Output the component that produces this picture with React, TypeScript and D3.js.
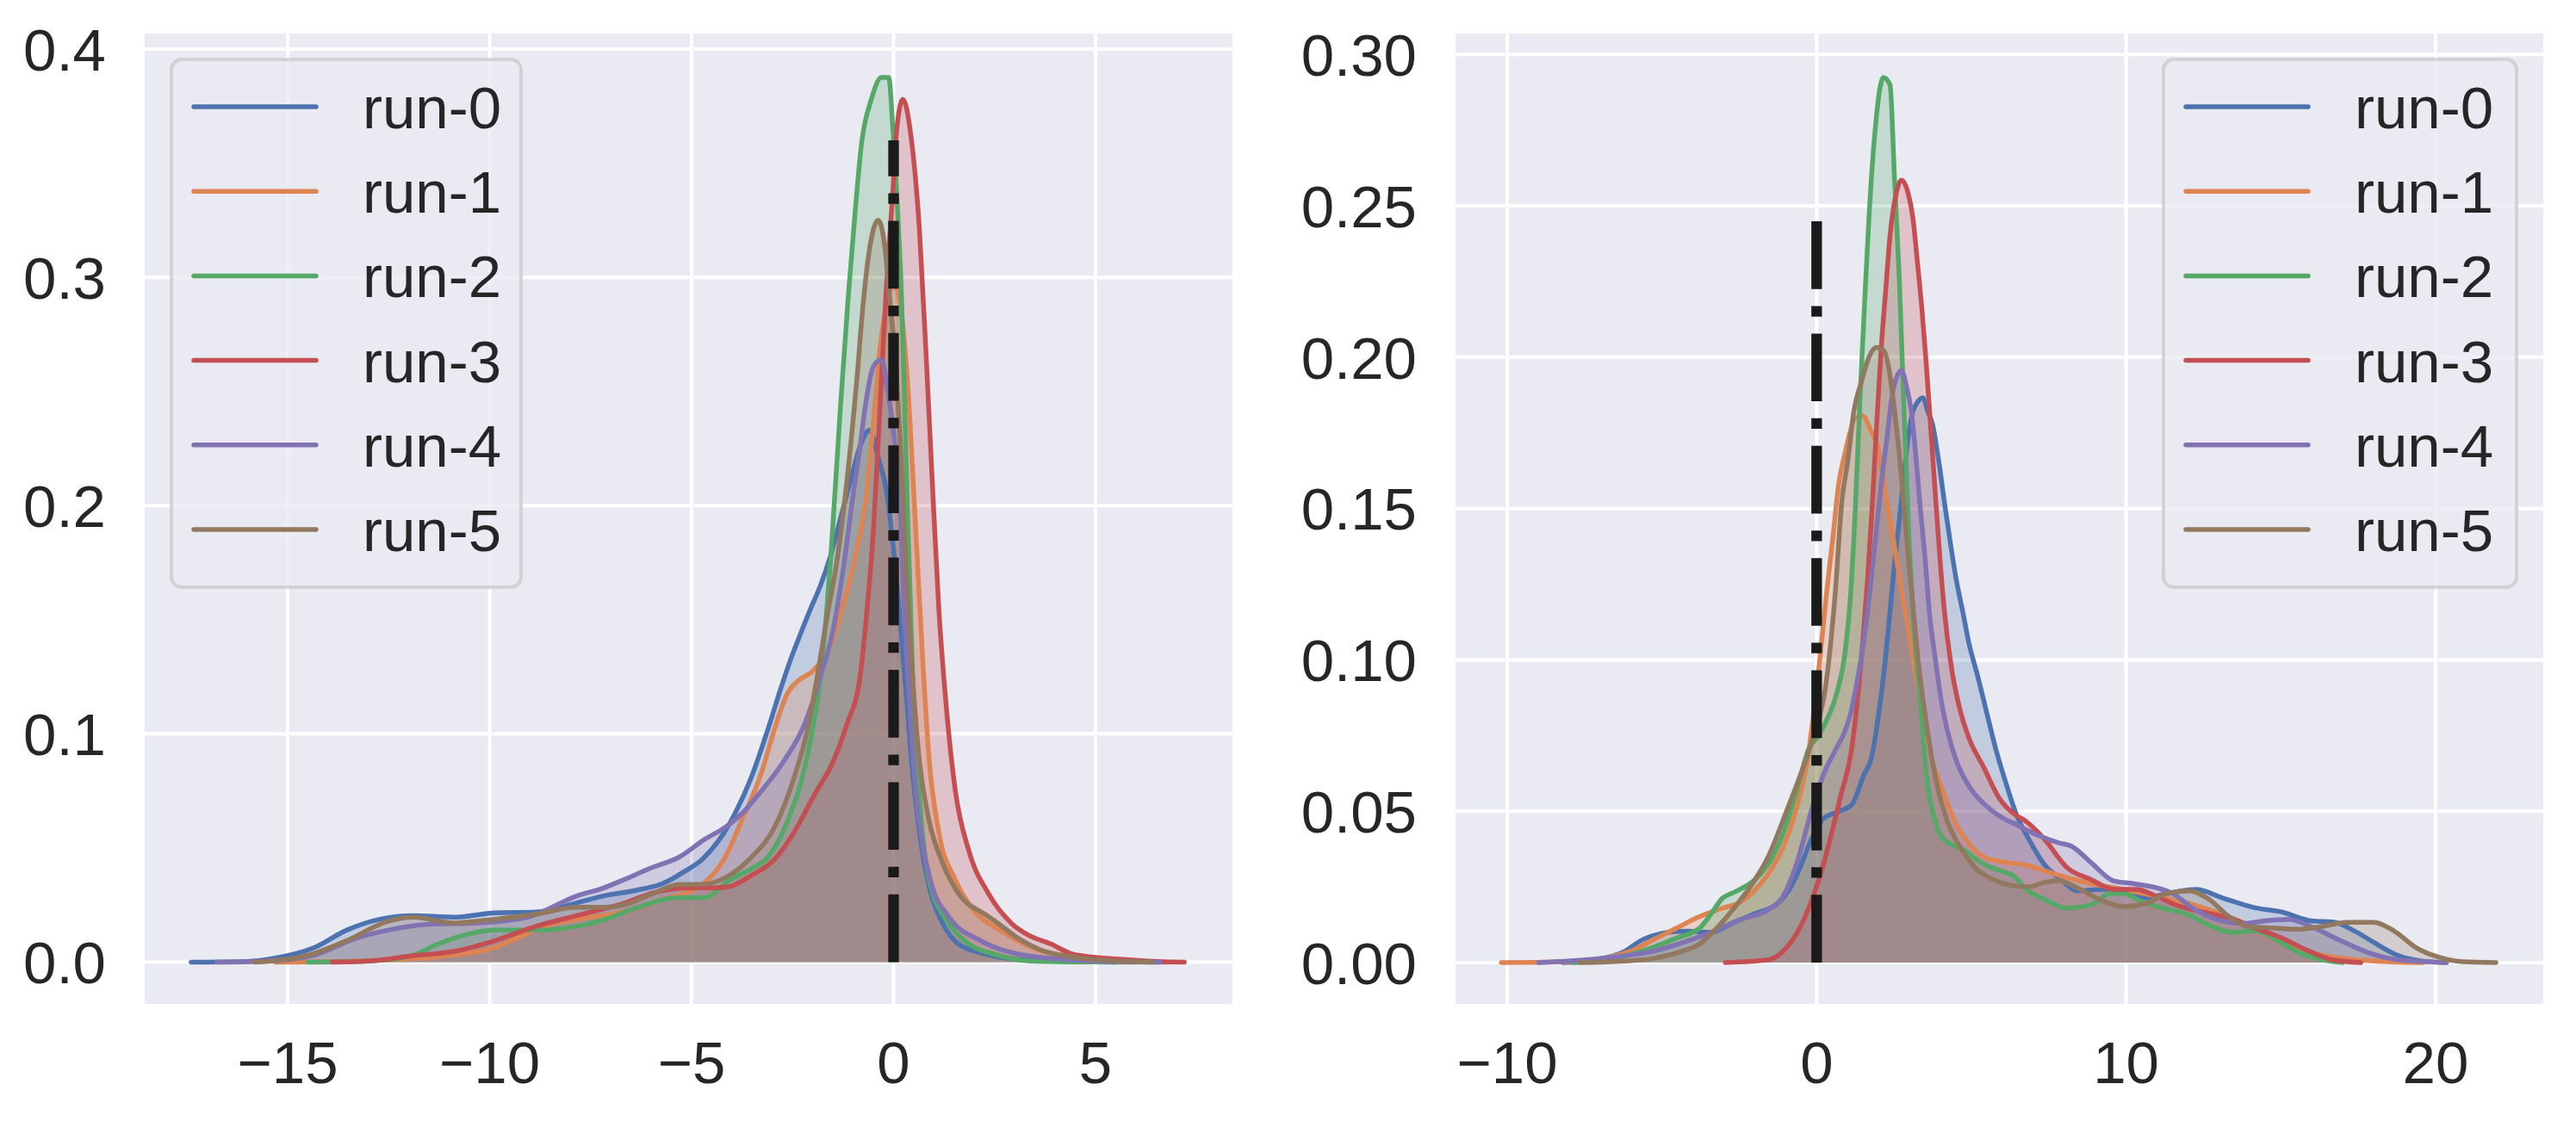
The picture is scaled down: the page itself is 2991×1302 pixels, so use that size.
import { useRef, useEffect } from "react";
import * as d3 from "d3";

type Pt = [number, number];

const RUN_NAMES = ["run-0", "run-1", "run-2", "run-3", "run-4", "run-5"];
const RUN_COLORS = ["#4C72B0", "#DD8452", "#55A868", "#C44E52", "#8172B3", "#937860"];

// ---- left panel: density curves (x, density) ----
const LEFT_RUN0: Pt[] = [
  [-17.39, 0], [-16, 0.0003], [-15.37, 0.0016], [-14.35, 0.0063], [-13.54, 0.014], [-12.72, 0.0188],
  [-11.9, 0.0204], [-10.89, 0.0197], [-9.87, 0.0216], [-8.85, 0.022], [-7.84, 0.026], [-7.18, 0.029],
  [-6.37, 0.0315], [-5.72, 0.0344], [-5.15, 0.04], [-4.74, 0.045], [-4.34, 0.053], [-3.93, 0.065],
  [-3.52, 0.081], [-3.11, 0.102], [-2.79, 0.12], [-2.54, 0.133], [-2.3, 0.144], [-2.05, 0.155],
  [-1.81, 0.165], [-1.56, 0.178], [-1.32, 0.194], [-1.08, 0.21], [-0.83, 0.226], [-0.6, 0.233],
  [-0.38, 0.221], [-0.18, 0.207], [-0.02, 0.184], [0.15, 0.152], [0.31, 0.118], [0.47, 0.083],
  [0.64, 0.057], [0.88, 0.033], [1.21, 0.0172], [1.61, 0.0079], [2.18, 0.004], [3.0, 0.0013],
  [4.2, 0.0003], [5.5, 0],
];
const LEFT_RUN1: Pt[] = [
  [-15.3, 0], [-13.5, 0.0004], [-12.0, 0.0014], [-10.9, 0.003], [-9.9, 0.0063], [-9.26, 0.011],
  [-8.65, 0.0157], [-7.84, 0.0188], [-6.82, 0.0215], [-5.8, 0.027], [-4.74, 0.034], [-4.17, 0.046],
  [-3.76, 0.062], [-3.27, 0.083], [-2.95, 0.102], [-2.62, 0.118], [-2.38, 0.123], [-1.97, 0.128],
  [-1.56, 0.139], [-1.24, 0.157], [-0.91, 0.181], [-0.67, 0.205], [-0.5, 0.236], [-0.34, 0.268],
  [-0.15, 0.29], [0.02, 0.297], [0.23, 0.279], [0.39, 0.242], [0.55, 0.189], [0.72, 0.133],
  [0.88, 0.089], [1.12, 0.057], [1.53, 0.036], [2.02, 0.022], [2.59, 0.0145], [3.4, 0.0066],
  [4.62, 0.002], [5.8, 0.0004], [6.8, 0],
];
const LEFT_RUN2: Pt[] = [
  [-14.5, 0], [-13, 0.0005], [-11.9, 0.003], [-11.3, 0.0078], [-10.48, 0.0125], [-9.87, 0.014],
  [-8.85, 0.014], [-7.84, 0.0157], [-7.18, 0.0185], [-6.37, 0.0238], [-5.31, 0.0283], [-4.66, 0.0283],
  [-4.09, 0.0357], [-3.52, 0.041], [-3.11, 0.046], [-2.62, 0.062], [-2.13, 0.091], [-1.81, 0.125],
  [-1.56, 0.176], [-1.32, 0.242], [-1.12, 0.292], [-0.95, 0.329], [-0.79, 0.359], [-0.55, 0.378],
  [-0.3, 0.3876], [-0.12, 0.3876], [-0.02, 0.366], [0.11, 0.326], [0.19, 0.295], [0.27, 0.247],
  [0.35, 0.194], [0.47, 0.128], [0.64, 0.073], [0.88, 0.036], [1.37, 0.017], [1.78, 0.009],
  [2.59, 0.003], [3.4, 0.0005], [4.8, 0.0001], [6.0, 0],
];
const LEFT_RUN3: Pt[] = [
  [-13.9, 0], [-12.93, 0.0006], [-11.9, 0.0028], [-10.89, 0.0047], [-9.87, 0.0094], [-8.85, 0.0157],
  [-7.84, 0.0204], [-6.82, 0.025], [-5.8, 0.031], [-5.0, 0.0325], [-4.5, 0.0325], [-4.09, 0.033],
  [-3.52, 0.038], [-2.95, 0.045], [-2.46, 0.057], [-1.97, 0.073], [-1.48, 0.0885], [-1.16, 0.104],
  [-0.83, 0.125], [-0.67, 0.152], [-0.5, 0.189], [-0.34, 0.242], [-0.18, 0.295], [-0.02, 0.337],
  [0.07, 0.363], [0.23, 0.378], [0.43, 0.362], [0.64, 0.321], [0.8, 0.268], [0.96, 0.21],
  [1.12, 0.155], [1.29, 0.115], [1.53, 0.075], [1.86, 0.049], [2.35, 0.03], [2.92, 0.017],
  [3.32, 0.012], [3.89, 0.008], [4.46, 0.0034], [5.59, 0.0013], [6.5, 0.0003], [7.2, 0],
];
const LEFT_RUN4: Pt[] = [
  [-16.75, 0], [-15.5, 0.0005], [-14.35, 0.003], [-13.33, 0.0103], [-12.52, 0.014], [-11.5, 0.0166],
  [-10.28, 0.0172], [-9.06, 0.0197], [-7.84, 0.029], [-7.18, 0.0325], [-6.69, 0.036], [-6.04, 0.041],
  [-5.31, 0.046], [-4.66, 0.054], [-4.17, 0.059], [-3.76, 0.065], [-3.27, 0.075], [-2.7, 0.0885],
  [-2.21, 0.104], [-1.81, 0.125], [-1.48, 0.147], [-1.24, 0.173], [-1.0, 0.205], [-0.83, 0.226],
  [-0.67, 0.247], [-0.5, 0.261], [-0.3, 0.264], [-0.14, 0.25], [0.02, 0.229], [0.15, 0.205],
  [0.25, 0.16], [0.39, 0.115], [0.55, 0.075], [0.72, 0.0515], [0.96, 0.033], [1.37, 0.0198],
  [2.18, 0.0092], [3.4, 0.0026], [5.0, 0.0005], [6.6, 0],
];
const LEFT_RUN5: Pt[] = [
  [-15.83, 0], [-14.9, 0.0015], [-14.35, 0.0038], [-13.54, 0.0094], [-12.52, 0.0179], [-11.9, 0.0197],
  [-10.89, 0.0172], [-9.87, 0.0188], [-8.85, 0.021], [-7.84, 0.024], [-7.18, 0.024], [-6.69, 0.025],
  [-5.96, 0.03], [-5.31, 0.034], [-4.74, 0.034], [-4.17, 0.037], [-3.52, 0.046], [-2.95, 0.059],
  [-2.46, 0.081], [-2.13, 0.102], [-1.89, 0.125], [-1.64, 0.152], [-1.4, 0.176], [-1.16, 0.21],
  [-0.91, 0.255], [-0.75, 0.289], [-0.59, 0.313], [-0.38, 0.325], [-0.22, 0.314], [-0.1, 0.292],
  [0.07, 0.258], [0.19, 0.22], [0.31, 0.173], [0.47, 0.125], [0.64, 0.088], [0.88, 0.062],
  [1.21, 0.0436], [1.61, 0.03], [2.26, 0.021], [2.59, 0.017], [3.07, 0.0106], [3.65, 0.0053],
  [4.62, 0.0018], [5.5, 0.0005], [6.4, 0],
];

// ---- right panel ----
const RIGHT_RUN0: Pt[] = [
  [-8.2, 0], [-7.2, 0.0008], [-6.2, 0.0037], [-5.64, 0.0075], [-5.27, 0.0089], [-4.8, 0.01],
  [-4.16, 0.0104], [-3.41, 0.01], [-2.76, 0.0128], [-2.02, 0.0161], [-1.28, 0.0194], [-0.91, 0.0237],
  [-0.54, 0.0313], [-0.17, 0.0408], [0.2, 0.0474], [0.67, 0.0498], [1.13, 0.0521], [1.51, 0.0616],
  [1.79, 0.0685], [1.98, 0.0804], [2.18, 0.0964], [2.37, 0.116], [2.52, 0.132], [2.67, 0.146],
  [2.81, 0.16], [2.96, 0.174], [3.11, 0.182], [3.25, 0.185], [3.43, 0.1866], [3.59, 0.182],
  [3.74, 0.178], [3.94, 0.166], [4.13, 0.152], [4.33, 0.138], [4.52, 0.126], [4.72, 0.116],
  [4.91, 0.106], [5.21, 0.0944], [5.5, 0.0824], [5.79, 0.0705], [6.08, 0.0605], [6.47, 0.0485],
  [6.87, 0.0405], [7.35, 0.0325], [7.89, 0.0275], [8.42, 0.0237], [9.17, 0.0242], [9.91, 0.0242],
  [10.66, 0.0214], [11.3, 0.0228], [12.26, 0.0242], [13.11, 0.0214], [14.17, 0.0181], [15.03, 0.0167],
  [15.98, 0.0138], [16.73, 0.0133], [17.37, 0.0105], [18.0, 0.0067], [18.75, 0.0025], [19.5, 0.0006],
  [20.35, 0],
];
const RIGHT_RUN1: Pt[] = [
  [-10.19, 0], [-8.98, 0.0001], [-7.59, 0.0005], [-6.66, 0.0019], [-6.01, 0.0038], [-5.27, 0.0076],
  [-4.53, 0.0114], [-3.78, 0.0152], [-3.04, 0.018], [-2.48, 0.0199], [-2.02, 0.0237], [-1.56, 0.0294],
  [-1.09, 0.0379], [-0.68, 0.05], [-0.3, 0.067], [0.1, 0.1], [0.32, 0.122], [0.52, 0.14],
  [0.71, 0.158], [0.91, 0.168], [1.1, 0.176], [1.25, 0.18], [1.49, 0.1806], [1.74, 0.176],
  [1.98, 0.17], [2.18, 0.158], [2.37, 0.146], [2.57, 0.134], [2.76, 0.122], [2.96, 0.11],
  [3.15, 0.098], [3.35, 0.0864], [3.54, 0.0764], [3.74, 0.0665], [3.94, 0.0605], [4.23, 0.0525],
  [4.52, 0.0455], [4.91, 0.0395], [5.4, 0.0349], [5.89, 0.0335], [6.72, 0.0323], [7.78, 0.029],
  [8.85, 0.0261], [9.91, 0.0242], [10.98, 0.0219], [12.04, 0.0195], [12.9, 0.0167], [13.75, 0.0133],
  [14.6, 0.0086], [15.45, 0.0048], [16.3, 0.0025], [17.37, 0.001], [18.43, 0.0003], [19.6, 0],
];
const RIGHT_RUN2: Pt[] = [
  [-7.9, 0], [-7.12, 0.0005], [-5.64, 0.0038], [-4.53, 0.0081], [-3.78, 0.0114], [-3.41, 0.0161],
  [-3.04, 0.0213], [-2.67, 0.0232], [-1.93, 0.028], [-1.44, 0.0345], [-0.95, 0.0465], [-0.56, 0.06],
  [-0.26, 0.0705], [0.03, 0.0745], [0.32, 0.08], [0.62, 0.088], [0.91, 0.102], [1.1, 0.122],
  [1.25, 0.15], [1.4, 0.186], [1.54, 0.216], [1.69, 0.246], [1.88, 0.274], [2.16, 0.2924],
  [2.37, 0.29], [2.52, 0.258], [2.67, 0.226], [2.81, 0.186], [2.96, 0.146], [3.15, 0.11],
  [3.35, 0.086], [3.54, 0.0625], [3.84, 0.0465], [4.13, 0.0405], [4.72, 0.0375], [5.4, 0.0325],
  [5.89, 0.0305], [6.38, 0.0285], [6.72, 0.0247], [7.36, 0.0209], [8.1, 0.018], [8.85, 0.019],
  [9.49, 0.0228], [9.91, 0.0228], [10.45, 0.0204], [11.19, 0.018], [12.04, 0.0157], [12.68, 0.0124],
  [13.43, 0.01], [14.17, 0.0105], [14.81, 0.0077], [15.56, 0.0034], [16.3, 0.001], [17.0, 0],
];
const RIGHT_RUN3: Pt[] = [
  [-2.95, 0], [-1.56, 0.0009], [-1.09, 0.0037], [-0.63, 0.0099], [-0.17, 0.0203], [0.3, 0.0355],
  [0.76, 0.0544], [1.15, 0.072], [1.35, 0.09], [1.49, 0.106], [1.64, 0.126], [1.79, 0.15],
  [1.93, 0.176], [2.08, 0.202], [2.23, 0.222], [2.37, 0.24], [2.57, 0.254], [2.74, 0.2585],
  [2.96, 0.254], [3.11, 0.246], [3.25, 0.232], [3.4, 0.216], [3.54, 0.198], [3.69, 0.176],
  [3.84, 0.154], [3.98, 0.134], [4.13, 0.116], [4.38, 0.096], [4.62, 0.084], [4.91, 0.0745],
  [5.4, 0.0645], [5.89, 0.0545], [6.47, 0.0485], [6.72, 0.047], [7.36, 0.0408], [8.1, 0.0313],
  [8.85, 0.0275], [9.6, 0.0242], [10.34, 0.0242], [10.98, 0.0219], [11.62, 0.019], [12.47, 0.0167],
  [13.32, 0.0148], [14.17, 0.0114], [15.03, 0.0081], [15.88, 0.0039], [16.62, 0.001], [17.58, 0],
];
const RIGHT_RUN4: Pt[] = [
  [-8.98, 0], [-8.05, 0.0005], [-6.66, 0.0017], [-5.27, 0.0038], [-4.34, 0.0066], [-3.41, 0.01],
  [-2.48, 0.0142], [-1.56, 0.0175], [-1.09, 0.0218], [-0.63, 0.0332], [-0.17, 0.0502], [0.2, 0.0616],
  [0.62, 0.0705], [0.91, 0.0764], [1.1, 0.0824], [1.3, 0.0924], [1.49, 0.104], [1.69, 0.12],
  [1.84, 0.134], [1.98, 0.148], [2.13, 0.162], [2.28, 0.174], [2.42, 0.186], [2.57, 0.193],
  [2.74, 0.1956], [2.91, 0.19], [3.06, 0.182], [3.2, 0.168], [3.35, 0.15], [3.5, 0.134],
  [3.64, 0.116], [3.84, 0.1], [4.03, 0.0864], [4.23, 0.0764], [4.52, 0.0665], [4.91, 0.0585],
  [5.4, 0.0525], [5.89, 0.0485], [6.47, 0.0455], [7.16, 0.042], [7.84, 0.0395], [8.23, 0.0385],
  [8.85, 0.0332], [9.6, 0.027], [10.23, 0.0261], [10.98, 0.0247], [11.51, 0.0228], [12.15, 0.018],
  [12.9, 0.0143], [13.75, 0.0129], [14.49, 0.0138], [15.24, 0.0143], [15.98, 0.0119], [16.84, 0.0077],
  [17.8, 0.0034], [18.75, 0.001], [20.35, 0],
];
const RIGHT_RUN5: Pt[] = [
  [-7.63, 0], [-6.2, 0.0005], [-5.27, 0.0014], [-4.34, 0.0038], [-3.78, 0.0062], [-3.23, 0.0114],
  [-2.67, 0.018], [-2.11, 0.0256], [-1.56, 0.0351], [-1.0, 0.0493], [-0.54, 0.0616], [-0.07, 0.0758],
  [0.3, 0.092], [0.6, 0.122], [0.81, 0.152], [1.01, 0.166], [1.2, 0.182], [1.45, 0.192],
  [1.69, 0.2], [1.93, 0.2032], [2.18, 0.202], [2.37, 0.194], [2.52, 0.182], [2.67, 0.168],
  [2.81, 0.152], [2.96, 0.134], [3.11, 0.118], [3.3, 0.098], [3.5, 0.0824], [3.74, 0.0665],
  [3.94, 0.0565], [4.23, 0.0465], [4.62, 0.0385], [5.11, 0.0315], [5.69, 0.0275], [6.28, 0.0255],
  [6.87, 0.025], [7.35, 0.0265], [7.84, 0.027], [8.33, 0.0252], [8.82, 0.0225], [9.48, 0.0195],
  [9.91, 0.0185], [10.66, 0.0195], [11.3, 0.0228], [12.04, 0.0237], [12.68, 0.0209], [13.32, 0.0152],
  [13.96, 0.0119], [14.81, 0.0114], [15.56, 0.011], [16.3, 0.0119], [17.16, 0.0133], [18.0, 0.0133],
  [18.65, 0.0105], [19.39, 0.0048], [20.03, 0.002], [20.88, 0.0003], [21.95, 0],
];

const LEFT_X_TICKS = [-15, -10, -5, 0, 5];
const LEFT_Y_TICKS = [0, 0.1, 0.2, 0.3, 0.4];
const LEFT_Y_LABELS = ["0.0", "0.1", "0.2", "0.3", "0.4"];
const LEFT_X_DOMAIN: [number, number] = [-18.54, 8.39];
const LEFT_Y_DOMAIN: [number, number] = [-0.0183, 0.4068];
const LEFT_MARKER: Pt = [0, 0.36]; // x position, top of the dash-dot line

const RIGHT_X_TICKS = [-10, 0, 10, 20];
const RIGHT_Y_TICKS = [0, 0.05, 0.1, 0.15, 0.2, 0.25, 0.3];
const RIGHT_Y_LABELS = ["0.00", "0.05", "0.10", "0.15", "0.20", "0.25", "0.30"];
const RIGHT_X_DOMAIN: [number, number] = [-11.67, 23.48];
const RIGHT_Y_DOMAIN: [number, number] = [-0.01365, 0.3069];
const RIGHT_MARKER: Pt = [0, 0.25];

const FONT = "'Liberation Sans', Arial, sans-serif";
const TEXT_COLOR = "#262626";
const BG = "#EAEAF2";

interface Panel {
  left: number;
  right: number;
  top: number;
  bottom: number;
  xDomain: [number, number];
  yDomain: [number, number];
  xTicks: number[];
  yTicks: number[];
  yLabels: string[];
  series: Pt[][];
  marker: Pt;
  legendLeft: number;
  legendWidth: number;
}

const PANELS: Panel[] = [
  {
    left: 168, right: 1431, top: 39, bottom: 1166,
    xDomain: LEFT_X_DOMAIN, yDomain: LEFT_Y_DOMAIN,
    xTicks: LEFT_X_TICKS, yTicks: LEFT_Y_TICKS, yLabels: LEFT_Y_LABELS,
    series: [LEFT_RUN0, LEFT_RUN1, LEFT_RUN2, LEFT_RUN3, LEFT_RUN4, LEFT_RUN5],
    marker: LEFT_MARKER,
    legendLeft: 199, legendWidth: 406,
  },
  {
    left: 1690, right: 2953, top: 39, bottom: 1166,
    xDomain: RIGHT_X_DOMAIN, yDomain: RIGHT_Y_DOMAIN,
    xTicks: RIGHT_X_TICKS, yTicks: RIGHT_Y_TICKS, yLabels: RIGHT_Y_LABELS,
    series: [RIGHT_RUN0, RIGHT_RUN1, RIGHT_RUN2, RIGHT_RUN3, RIGHT_RUN4, RIGHT_RUN5],
    marker: RIGHT_MARKER,
    legendLeft: 2512, legendWidth: 410,
  },
];

function fmtTick(v: number) {
  return v < 0 ? `\u2212${Math.abs(v)}` : `${v}`;
}

function drawPanel(svg: d3.Selection<SVGSVGElement, unknown, null, undefined>, p: Panel, idx: number) {
  const x = d3.scaleLinear().domain(p.xDomain).range([p.left, p.right]);
  const y = d3.scaleLinear().domain(p.yDomain).range([p.bottom, p.top]);
  const g = svg.append("g");

  const clipId = `clip-${idx}`;
  g.append("clipPath")
    .attr("id", clipId)
    .append("rect")
    .attr("x", p.left)
    .attr("y", p.top)
    .attr("width", p.right - p.left)
    .attr("height", p.bottom - p.top);

  // background
  g.append("rect")
    .attr("x", p.left)
    .attr("y", p.top)
    .attr("width", p.right - p.left)
    .attr("height", p.bottom - p.top)
    .attr("fill", BG);

  // grid
  p.xTicks.forEach((t) => {
    g.append("line")
      .attr("x1", x(t)).attr("x2", x(t))
      .attr("y1", p.top).attr("y2", p.bottom)
      .attr("stroke", "#fff").attr("stroke-width", 4);
  });
  p.yTicks.forEach((t) => {
    g.append("line")
      .attr("x1", p.left).attr("x2", p.right)
      .attr("y1", y(t)).attr("y2", y(t))
      .attr("stroke", "#fff").attr("stroke-width", 4);
  });

  // tick labels
  p.xTicks.forEach((t) => {
    g.append("text")
      .attr("x", x(t))
      .attr("y", 1258)
      .attr("text-anchor", "middle")
      .attr("font-family", FONT)
      .attr("font-size", 69)
      .attr("fill", TEXT_COLOR)
      .text(fmtTick(t));
  });
  p.yTicks.forEach((t, i) => {
    g.append("text")
      .attr("x", p.left - 45)
      .attr("y", y(t) + 24.7)
      .attr("text-anchor", "end")
      .attr("font-family", FONT)
      .attr("font-size", 69)
      .attr("fill", TEXT_COLOR)
      .text(p.yLabels[i]);
  });

  const plot = g.append("g").attr("clip-path", `url(#${clipId})`);

  const area = d3.area<Pt>()
    .x((d) => x(d[0]))
    .y0(y(0))
    .y1((d) => y(d[1]))
    .curve(d3.curveMonotoneX);
  const line = d3.line<Pt>()
    .x((d) => x(d[0]))
    .y((d) => y(d[1]))
    .curve(d3.curveMonotoneX);

  // fills below all lines (matplotlib zorder)
  p.series.forEach((s, i) => {
    plot.append("path")
      .datum(s)
      .attr("d", area)
      .attr("fill", RUN_COLORS[i])
      .attr("fill-opacity", 0.25);
  });
  p.series.forEach((s, i) => {
    plot.append("path")
      .datum(s)
      .attr("d", line)
      .attr("fill", "none")
      .attr("stroke", RUN_COLORS[i])
      .attr("stroke-width", 5.5)
      .attr("stroke-linejoin", "round")
      .attr("stroke-linecap", "round");
  });

  // dash-dot reference line at x = 0
  const lw = 12.3;
  plot.append("line")
    .attr("x1", x(p.marker[0])).attr("x2", x(p.marker[0]))
    .attr("y1", y(0)).attr("y2", y(p.marker[1]))
    .attr("stroke", "#1a1a1a")
    .attr("stroke-width", lw)
    .attr("stroke-dasharray", `${6.4 * lw} ${1.6 * lw} ${lw} ${1.6 * lw}`);

  // legend
  const rowStep = 98.2;
  const firstRow = 124;
  const boxTop = firstRow - 55;
  const boxBottom = firstRow + rowStep * (RUN_NAMES.length - 1) + 67;
  const lg = svg.append("g");
  lg.append("rect")
    .attr("x", p.legendLeft)
    .attr("y", boxTop)
    .attr("width", p.legendWidth)
    .attr("height", boxBottom - boxTop)
    .attr("rx", 12)
    .attr("fill", BG)
    .attr("fill-opacity", 0.8)
    .attr("stroke", "#cccccc")
    .attr("stroke-opacity", 0.8)
    .attr("stroke-width", 4);
  RUN_NAMES.forEach((name, i) => {
    const ry = firstRow + i * rowStep;
    lg.append("line")
      .attr("x1", p.legendLeft + 26)
      .attr("x2", p.legendLeft + 168)
      .attr("y1", ry).attr("y2", ry)
      .attr("stroke", RUN_COLORS[i])
      .attr("stroke-width", 5.5)
      .attr("stroke-linecap", "round");
    lg.append("text")
      .attr("x", p.legendLeft + 222)
      .attr("y", ry + 25)
      .attr("font-family", FONT)
      .attr("font-size", 69)
      .attr("fill", TEXT_COLOR)
      .text(name);
  });
}

export default function App() {
  const svgRef = useRef<SVGSVGElement>(null);

  useEffect(() => {
    if (!svgRef.current) return;
    const svg = d3.select(svgRef.current);
    svg.selectAll("*").remove();
    PANELS.forEach((p, i) => drawPanel(svg, p, i));
  }, []);

  return (
    <svg
      ref={svgRef}
      width={2991}
      height={1302}
      style={{ position: "absolute", left: 0, top: 0, background: "#fff", display: "block" }}
    />
  );
}
